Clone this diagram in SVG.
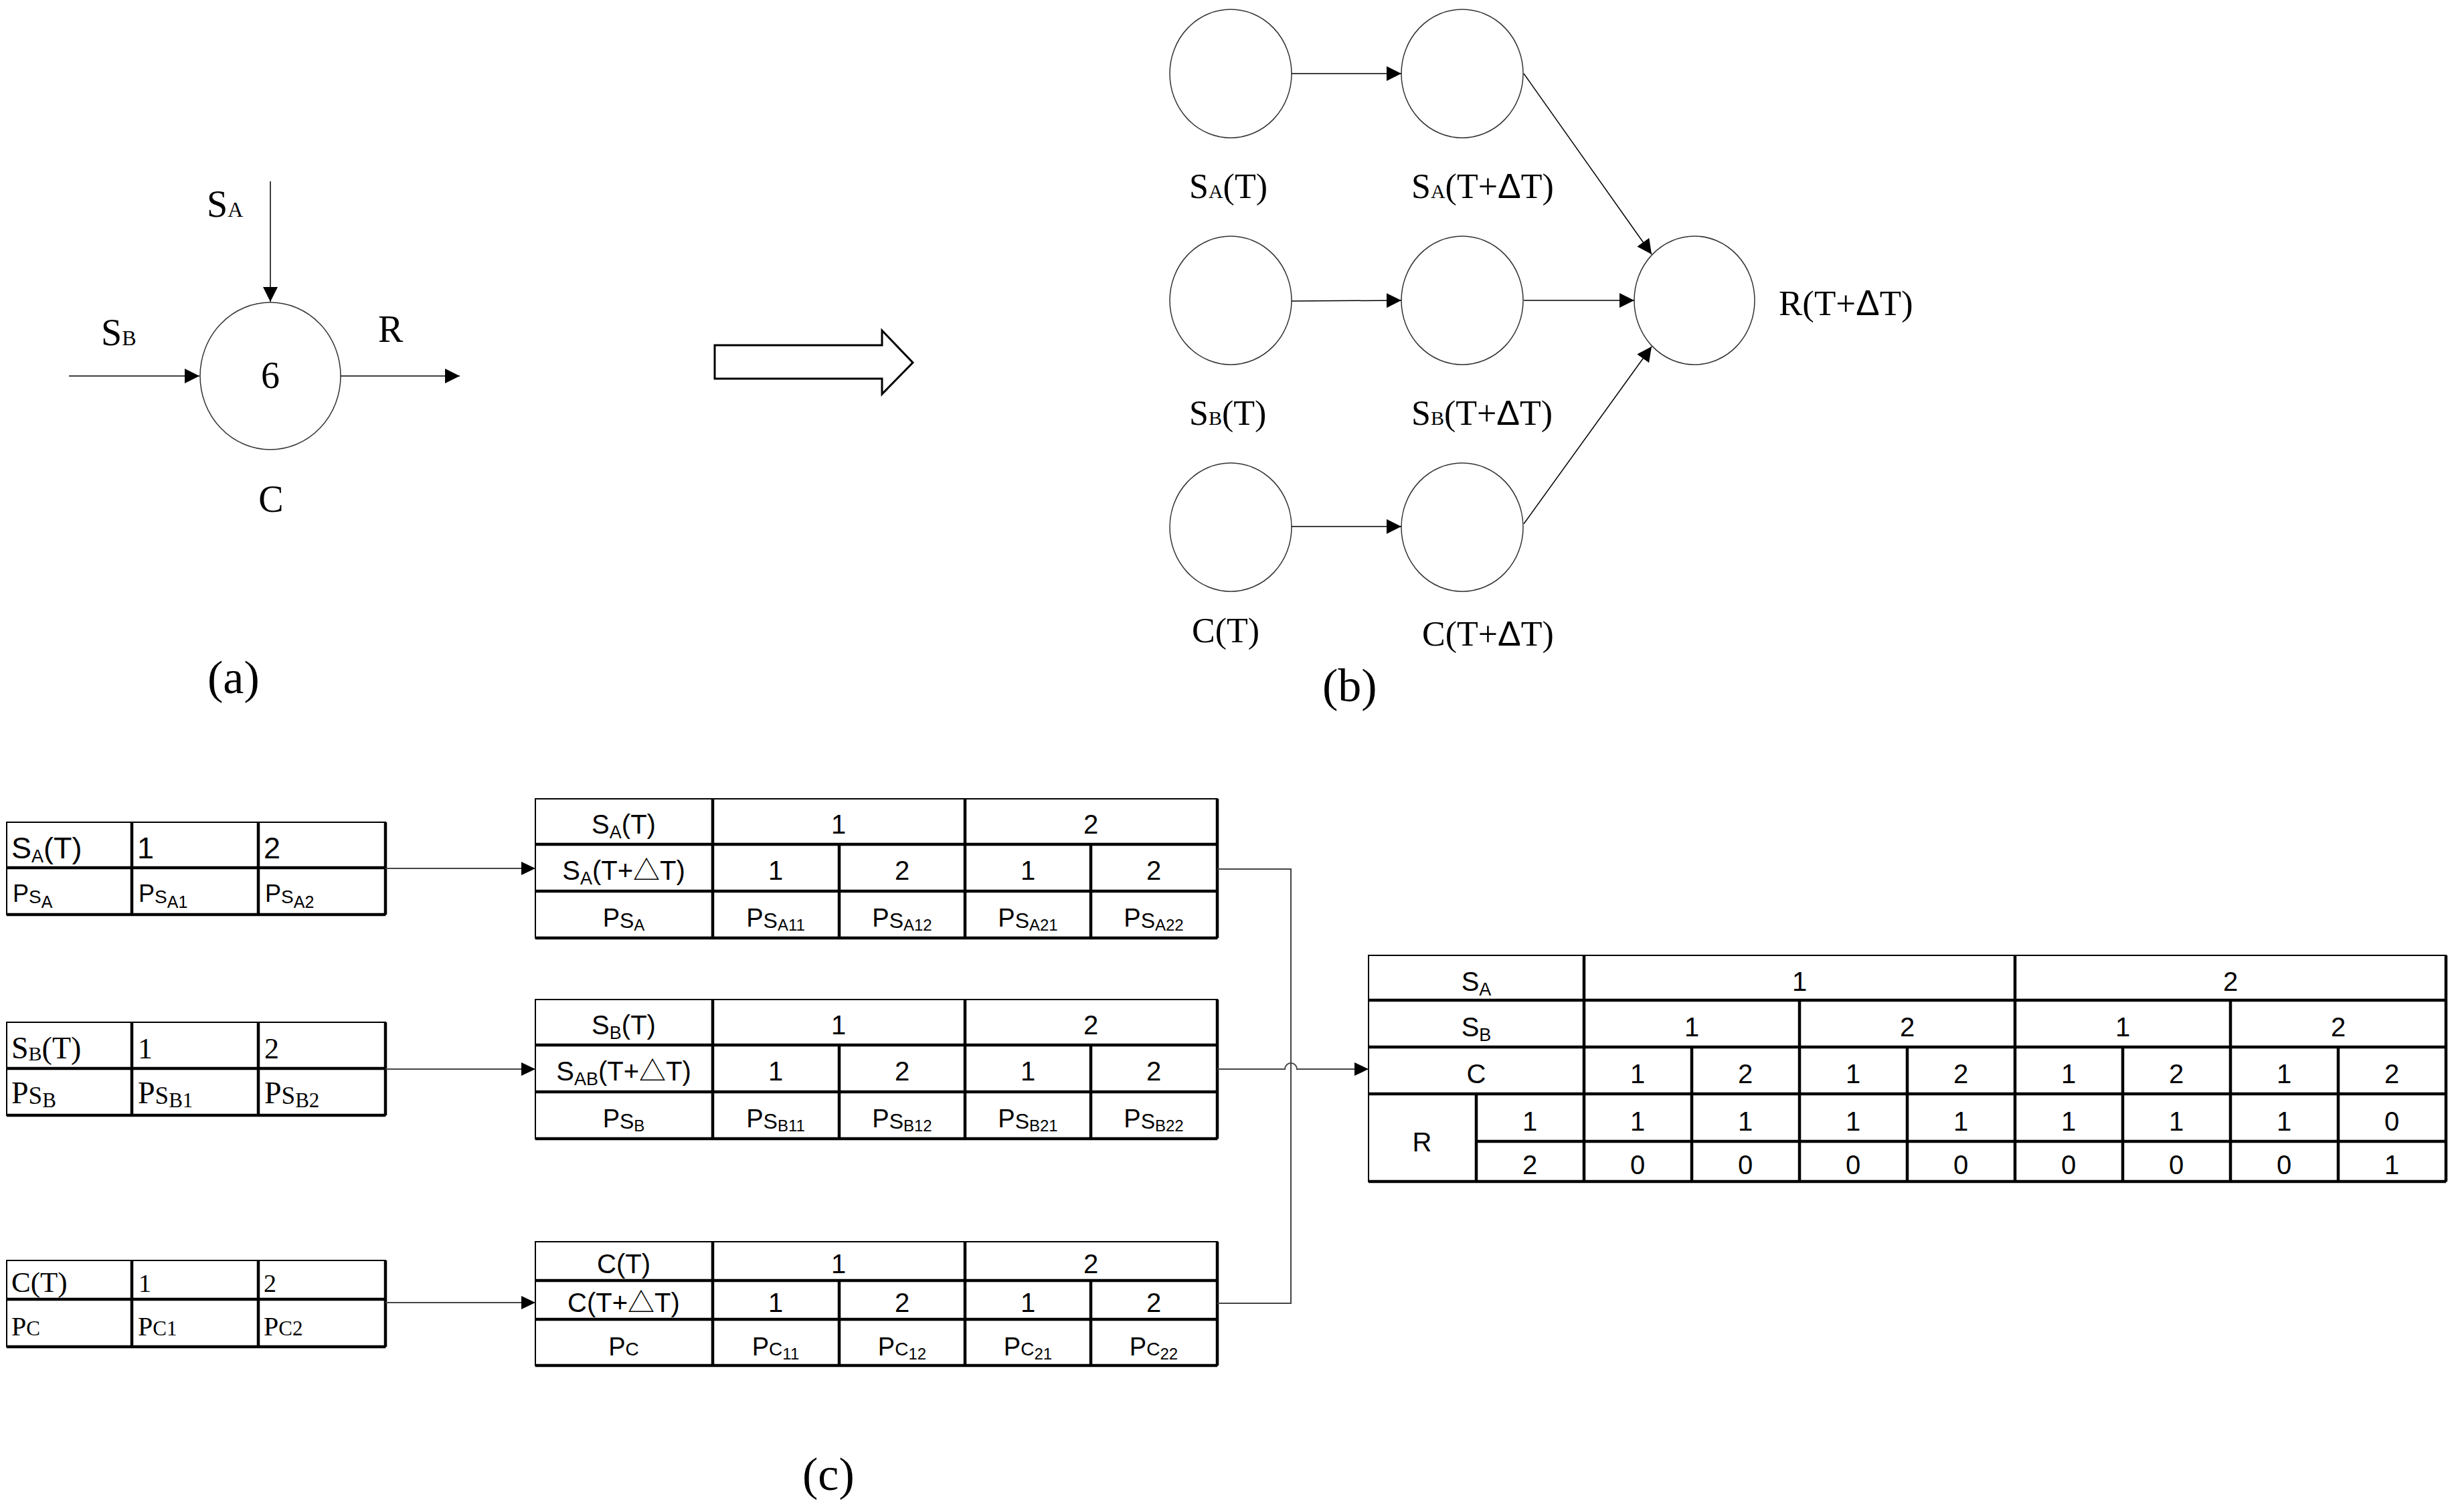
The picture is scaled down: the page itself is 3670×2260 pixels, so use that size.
<svg xmlns="http://www.w3.org/2000/svg" width="3670" height="2260" viewBox="0 0 3670 2260">
<defs>
<style>
.ln{stroke:#000;stroke-width:1.5;fill:none}
.cn{stroke:#444;stroke-width:2;fill:none}
.circ{fill:none;stroke:#333;stroke-width:1.5}
.tn{fill:none;stroke:#000;stroke-width:2}
.tk{fill:none;stroke:#000;stroke-width:4.5}
.tr{font-family:"Liberation Serif","Times New Roman",serif;fill:#000}
.ts{font-family:"Liberation Sans","Noto Sans CJK SC",sans-serif;fill:#000}
.sy{font-family:"Liberation Sans",sans-serif}
.m{text-anchor:middle}
</style>
<marker id="ah" markerUnits="userSpaceOnUse" markerWidth="22" markerHeight="22" viewBox="0 0 22 22" refX="22" refY="11" orient="auto"><path d="M0,0L22,11L0,22z" fill="#000"/></marker>
<marker id="ah2" markerUnits="userSpaceOnUse" markerWidth="21" markerHeight="20" viewBox="0 0 21 20" refX="21" refY="10" orient="auto"><path d="M0,0L21,10L0,20z" fill="#000"/></marker>
</defs>
<rect width="3670" height="2260" fill="#fff"/>

<!-- (a) -->
<g id="node-a-C">
<ellipse class="circ" cx="404" cy="562" rx="105" ry="110"/>
<text class="tr m" x="404" y="580" font-size="56">6</text>
<text class="tr m" x="405" y="765" font-size="56">C</text>
</g>
<g id="label-a-SA"><text class="tr" x="309" y="324" font-size="56">S<tspan font-size="32">A</tspan></text></g>
<g id="label-a-SB"><text class="tr" x="151" y="516" font-size="56">S<tspan font-size="32">B</tspan></text></g>
<g id="label-a-R"><text class="tr" x="565" y="511" font-size="56">R</text></g>
<g id="caption-a"><text class="tr" x="310" y="1036" font-size="70">(a)</text></g>
<g id="big-arrow"><path d="M1068,516H1318V494L1364,542L1318,589V566H1068Z" fill="#fff" stroke="#000" stroke-width="3" stroke-linejoin="miter"/></g>

<!-- (b) -->
<g id="node-b-SAT"><ellipse class="circ" cx="1839" cy="110" rx="91" ry="96"/><text class="tr" x="1777" y="296" font-size="52">S<tspan font-size="30">A</tspan>(T)</text></g>
<g id="node-b-SATdT"><ellipse class="circ" cx="2185" cy="110" rx="91" ry="96"/><text class="tr" x="2109" y="296" font-size="52">S<tspan font-size="30">A</tspan>(T+<tspan class="sy">Δ</tspan>T)</text></g>
<g id="node-b-SBT"><ellipse class="circ" cx="1839" cy="449" rx="91" ry="96"/><text class="tr" x="1777" y="635" font-size="52">S<tspan font-size="30">B</tspan>(T)</text></g>
<g id="node-b-SBTdT"><ellipse class="circ" cx="2185" cy="449" rx="91" ry="96"/><text class="tr" x="2109" y="635" font-size="52">S<tspan font-size="30">B</tspan>(T+<tspan class="sy">Δ</tspan>T)</text></g>
<g id="node-b-CT"><ellipse class="circ" cx="1839" cy="788" rx="91" ry="96"/><text class="tr" x="1781" y="960" font-size="52">C(T)</text></g>
<g id="node-b-CTdT"><ellipse class="circ" cx="2185" cy="788" rx="91" ry="96"/><text class="tr" x="2125" y="965" font-size="52">C(T+<tspan class="sy">Δ</tspan>T)</text></g>
<g id="node-b-R"><ellipse class="circ" cx="2532" cy="449" rx="90" ry="96"/><text class="tr" x="2658" y="471" font-size="53">R(T+<tspan class="sy">Δ</tspan>T)</text></g>
<g id="caption-b"><text class="tr" x="1976" y="1048" font-size="70">(b)</text></g>

<!-- (c) small tables -->
<g id="table-SA-small">
<rect class="tn" x="10" y="1229" width="566" height="138"/>
<path class="tk" d="M10,1297H576M10,1367H576M197,1229V1367M386,1229V1367M576,1229V1367"/>
<text class="ts" x="17" y="1283" font-size="45">S<tspan font-size="27" dy="6">A</tspan><tspan dy="-6">(T)</tspan></text>
<text class="ts" x="205" y="1283" font-size="45">1</text>
<text class="ts" x="394" y="1283" font-size="45">2</text>
<text class="ts" x="19" y="1348" font-size="36">P<tspan font-size="28" dy="2">S</tspan><tspan font-size="25" dy="7">A</tspan></text>
<text class="ts" x="207" y="1348" font-size="36">P<tspan font-size="28" dy="2">S</tspan><tspan font-size="25" dy="7">A1</tspan></text>
<text class="ts" x="396" y="1348" font-size="36">P<tspan font-size="28" dy="2">S</tspan><tspan font-size="25" dy="7">A2</tspan></text>
</g>
<g id="table-SB-small">
<rect class="tn" x="10" y="1528" width="566" height="139"/>
<path class="tk" d="M10,1597H576M10,1667H576M197,1528V1667M386,1528V1667M576,1528V1667"/>
<text class="tr" x="17" y="1582" font-size="46">S<tspan font-size="30" dy="3">B</tspan><tspan dy="-3">(T)</tspan></text>
<text class="tr" x="206" y="1582" font-size="44">1</text>
<text class="tr" x="395" y="1582" font-size="44">2</text>
<text class="tr" x="17" y="1649" font-size="46">P<tspan font-size="37" dy="1">S</tspan><tspan font-size="31" dy="5">B</tspan></text>
<text class="tr" x="206" y="1649" font-size="46">P<tspan font-size="37" dy="1">S</tspan><tspan font-size="31" dy="5">B1</tspan></text>
<text class="tr" x="395" y="1649" font-size="46">P<tspan font-size="37" dy="1">S</tspan><tspan font-size="31" dy="5">B2</tspan></text>
</g>
<g id="table-C-small">
<rect class="tn" x="10" y="1884" width="566" height="129"/>
<path class="tk" d="M10,1942H576M10,2013H576M197,1884V2013M386,1884V2013M576,1884V2013"/>
<text class="tr" x="17" y="1931" font-size="43">C(T)</text>
<text class="tr" x="207" y="1931" font-size="38">1</text>
<text class="tr" x="394" y="1931" font-size="38">2</text>
<text class="tr" x="17" y="1996" font-size="40">P<tspan font-size="31">C</tspan></text>
<text class="tr" x="206" y="1996" font-size="40">P<tspan font-size="31">C1</tspan></text>
<text class="tr" x="394" y="1996" font-size="40">P<tspan font-size="31">C2</tspan></text>
</g>

<!-- (c) big tables -->
<g id="table-SA-big">
<rect class="tn" x="800" y="1194" width="1019" height="208"/>
<path class="tk" d="M800,1262H1819M800,1332H1819M800,1402H1819M1065,1194V1402M1442,1194V1402M1819,1194V1402M1254,1262V1402M1630,1262V1402"/>
<g class="ts m" font-size="40">
<text x="932" y="1246">S<tspan font-size="27" dy="7">A</tspan><tspan dy="-7">(T)</tspan></text>
<text x="1253" y="1246">1</text><text x="1630" y="1246">2</text>
<text x="932" y="1315">S<tspan font-size="27" dy="7">A</tspan><tspan dy="-7">(T+△T)</tspan></text>
<text x="1159" y="1315">1</text><text x="1348" y="1315">2</text><text x="1536" y="1315">1</text><text x="1724" y="1315">2</text>
<text x="932" y="1385" font-size="38">P<tspan font-size="32" dy="2">S</tspan><tspan font-size="24" dy="4">A</tspan></text>
<text x="1159" y="1385" font-size="38">P<tspan font-size="32" dy="2">S</tspan><tspan font-size="24" dy="4">A11</tspan></text>
<text x="1348" y="1385" font-size="38">P<tspan font-size="32" dy="2">S</tspan><tspan font-size="24" dy="4">A12</tspan></text>
<text x="1536" y="1385" font-size="38">P<tspan font-size="32" dy="2">S</tspan><tspan font-size="24" dy="4">A21</tspan></text>
<text x="1724" y="1385" font-size="38">P<tspan font-size="32" dy="2">S</tspan><tspan font-size="24" dy="4">A22</tspan></text>
</g>
</g>
<g id="table-SB-big">
<rect class="tn" x="800" y="1494" width="1019" height="208"/>
<path class="tk" d="M800,1562H1819M800,1632H1819M800,1702H1819M1065,1494V1702M1442,1494V1702M1819,1494V1702M1254,1562V1702M1630,1562V1702"/>
<g class="ts m" font-size="40">
<text x="932" y="1546">S<tspan font-size="27" dy="7">B</tspan><tspan dy="-7">(T)</tspan></text>
<text x="1253" y="1546">1</text><text x="1630" y="1546">2</text>
<text x="932" y="1615">S<tspan font-size="27" dy="7">AB</tspan><tspan dy="-7">(T+△T)</tspan></text>
<text x="1159" y="1615">1</text><text x="1348" y="1615">2</text><text x="1536" y="1615">1</text><text x="1724" y="1615">2</text>
<text x="932" y="1685" font-size="38">P<tspan font-size="32" dy="2">S</tspan><tspan font-size="24" dy="4">B</tspan></text>
<text x="1159" y="1685" font-size="38">P<tspan font-size="32" dy="2">S</tspan><tspan font-size="24" dy="4">B11</tspan></text>
<text x="1348" y="1685" font-size="38">P<tspan font-size="32" dy="2">S</tspan><tspan font-size="24" dy="4">B12</tspan></text>
<text x="1536" y="1685" font-size="38">P<tspan font-size="32" dy="2">S</tspan><tspan font-size="24" dy="4">B21</tspan></text>
<text x="1724" y="1685" font-size="38">P<tspan font-size="32" dy="2">S</tspan><tspan font-size="24" dy="4">B22</tspan></text>
</g>
</g>
<g id="table-C-big">
<rect class="tn" x="800" y="1856" width="1019" height="185"/>
<path class="tk" d="M800,1914H1819M800,1972H1819M800,2041H1819M1065,1856V2041M1442,1856V2041M1819,1856V2041M1254,1914V2041M1630,1914V2041"/>
<g class="ts m" font-size="40">
<text x="932" y="1903">C(T)</text>
<text x="1253" y="1903">1</text><text x="1630" y="1903">2</text>
<text x="932" y="1961">C(T+△T)</text>
<text x="1159" y="1961">1</text><text x="1348" y="1961">2</text><text x="1536" y="1961">1</text><text x="1724" y="1961">2</text>
<text x="932" y="2026" font-size="38">P<tspan font-size="28">C</tspan></text>
<text x="1159" y="2026" font-size="38">P<tspan font-size="28">C</tspan><tspan font-size="24" dy="6">11</tspan></text>
<text x="1348" y="2026" font-size="38">P<tspan font-size="28">C</tspan><tspan font-size="24" dy="6">12</tspan></text>
<text x="1536" y="2026" font-size="38">P<tspan font-size="28">C</tspan><tspan font-size="24" dy="6">21</tspan></text>
<text x="1724" y="2026" font-size="38">P<tspan font-size="28">C</tspan><tspan font-size="24" dy="6">22</tspan></text>
</g>
</g>

<!-- (c) R table -->
<g id="table-R">
<rect class="tn" x="2045" y="1428" width="1610" height="338"/>
<path class="tk" d="M2045,1495H3655M2045,1565H3655M2045,1635H3655M2206,1706H3655M2045,1766H3655M2367,1428V1766M3011,1428V1766M3655,1428V1766M2689,1495V1766M3333,1495V1766M2528,1565V1766M2850,1565V1766M3172,1565V1766M3494,1565V1766M2206,1635V1766"/>
<g class="ts m" font-size="40">
<text x="2206" y="1481">S<tspan font-size="27" dy="7">A</tspan></text>
<text x="2689" y="1481">1</text><text x="3333" y="1481">2</text>
<text x="2206" y="1549">S<tspan font-size="27" dy="7">B</tspan></text>
<text x="2528" y="1549">1</text><text x="2850" y="1549">2</text><text x="3172" y="1549">1</text><text x="3494" y="1549">2</text>
<text x="2206" y="1619">C</text>
<text x="2447" y="1619">1</text><text x="2608" y="1619">2</text><text x="2769" y="1619">1</text><text x="2930" y="1619">2</text><text x="3091" y="1619">1</text><text x="3252" y="1619">2</text><text x="3413" y="1619">1</text><text x="3574" y="1619">2</text>
<text x="2125" y="1721">R</text>
<text x="2286" y="1690">1</text>
<text x="2447" y="1690">1</text><text x="2608" y="1690">1</text><text x="2769" y="1690">1</text><text x="2930" y="1690">1</text><text x="3091" y="1690">1</text><text x="3252" y="1690">1</text><text x="3413" y="1690">1</text><text x="3574" y="1690">0</text>
<text x="2286" y="1755">2</text>
<text x="2447" y="1755">0</text><text x="2608" y="1755">0</text><text x="2769" y="1755">0</text><text x="2930" y="1755">0</text><text x="3091" y="1755">0</text><text x="3252" y="1755">0</text><text x="3413" y="1755">0</text><text x="3574" y="1755">1</text>
</g>
</g>
<g id="caption-c"><text class="tr" x="1199" y="2227" font-size="70">(c)</text></g>

<!-- connectors -->
<g id="connectors">
<path class="ln" d="M404,271V451" marker-end="url(#ah)"/>
<path class="ln" d="M103,562H298" marker-end="url(#ah)"/>
<path class="ln" d="M509,562H687" marker-end="url(#ah)"/>
<path class="ln" d="M1930,110H2094" marker-end="url(#ah)"/>
<path class="ln" d="M1930,450L2094,449" marker-end="url(#ah)"/>
<path class="ln" d="M1930,787H2094" marker-end="url(#ah)"/>
<path class="ln" d="M2277,449H2442" marker-end="url(#ah)"/>
<path class="ln" d="M2277,110L2468,380" marker-end="url(#ah)"/>
<path class="ln" d="M2277,783L2468,518" marker-end="url(#ah)"/>
<path class="cn" d="M576,1298H800" marker-end="url(#ah2)"/>
<path class="cn" d="M576,1598H800" marker-end="url(#ah2)"/>
<path class="cn" d="M576,1947H800" marker-end="url(#ah2)"/>
<path class="cn" d="M1819,1299H1929V1948H1819"/>
<path class="cn" d="M1819,1598H1920A9,9 0 0 1 1938,1598H2045" marker-end="url(#ah2)"/>
</g>
</svg>
